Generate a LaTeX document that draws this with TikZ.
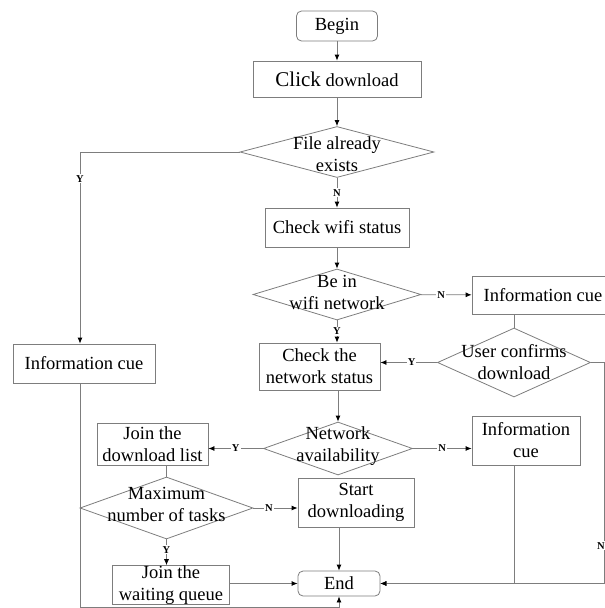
\documentclass[tikz,border=0pt]{standalone}
\usepackage{fontspec}
\setmainfont{Liberation Serif}
\usetikzlibrary{arrows.meta,calc,positioning,shapes.geometric}
\definecolor{flowgray}{RGB}{125,125,125}

\begin{document}
\begin{tikzpicture}[
    x=1pt,y=-1pt,
    >={Latex[length=6pt,width=5pt,color=black]},
    font=\fontsize{18.5}{22}\selectfont,
    process/.style={
      rectangle,draw=flowgray,line width=0.8pt,align=center,inner sep=0pt
    },
    terminal/.style={process,rounded corners=5pt},
    decision/.style={diamond,draw=flowgray,line width=0.8pt,inner sep=0pt},
    flow/.style={->,line width=0.8pt,color=flowgray},
    link/.style={line width=0.8pt,color=flowgray},
    yn/.style={fill=white,inner sep=1pt,text=black,
      font=\fontsize{10.5}{12}\selectfont\bfseries}
  ]
    \useasboundingbox (0,0) rectangle (605,608);

    \node[terminal,minimum width=81pt,minimum height=30pt] (begin) at (337,26) {Begin};
    \node[process,minimum width=168pt,minimum height=36pt] (click) at (337,79)
      {{\fontsize{21}{24}\selectfont Click} download};
    \node[decision,minimum width=194pt,minimum height=51pt,
      label={[align=center,yshift=-2pt]center:File already\\exists}] (exists) at (337,152) {};
    \node[process,minimum width=144pt,minimum height=39pt] (wifi) at (337,227.5) {Check wifi status};
    \node[decision,minimum width=168pt,minimum height=51pt,
      label={[align=center,yshift=2pt]center:Be in\\wifi network}] (inwifi) at (337,294.5) {};
    \node[process,minimum width=142pt,minimum height=38pt] (cue1) at (543,295) {Information cue};
    \node[process,minimum width=142pt,minimum height=39pt] (cueL) at (84,363.5) {Information cue};
    \node[process,minimum width=121pt,minimum height=47pt] (netstat) at (319.5,366.5)
      {Check the\\network status};
    \node[decision,minimum width=153pt,minimum height=69pt,
      label={[align=center]center:User confirms\\download}] (confirm) at (514,362.5) {};
    \node[decision,minimum width=149pt,minimum height=53pt,
      label={[align=center,yshift=2pt]center:Network\\availability}] (avail) at (338,448.5) {};
    \node[process,minimum width=111pt,minimum height=42pt] (joinlist) at (152.5,444)
      {Join the\\download list};
    \node[process,minimum width=108pt,minimum height=49pt] (cue2) at (526,440.5)
      {Information\\cue};
    \node[decision,minimum width=173pt,minimum height=62pt,
      label={[align=center,yshift=4pt]center:Maximum\\number of tasks}] (maxtask) at (166.5,508) {};
    \node[process,minimum width=116pt,minimum height=49pt] (start) at (356,502.5)
      {Start\\downloading};
    \node[process,minimum width=117pt,minimum height=38pt] (waitq) at (171,585)
      {Join the\\waiting queue};
    \node[terminal,minimum width=82pt,minimum height=25pt] (endn) at (339,583.5) {End};

    \coordinate (rside) at (604,583.5);
    \coordinate (lbot) at (80,607);

    \draw[flow] (begin) -- (click);
    \draw[flow] (click) -- (exists);
    \draw[flow] (exists) -- node[yn]{N} (wifi);
    \draw[flow] (exists.west) -| node[yn,pos=0.57]{Y} ([xshift=-4pt]cueL.north);
    \draw[flow] (wifi) -- (inwifi);
    \draw[flow] (inwifi) -- node[yn,pos=0.4]{N} (cue1);
    \draw[flow] (inwifi.south) -- node[yn]{Y} (inwifi.south |- netstat.north);
    \draw[link] (cue1.south -| confirm.north) -- (confirm.north);
    \draw[flow] (confirm.west) -- node[yn,pos=0.45]{Y} (confirm.west -| netstat.east);
    \draw[flow] (netstat.south -| avail.north) -- (avail.north);
    \draw[flow] (avail.west) -- node[yn]{Y} (avail.west -| joinlist.east);
    \draw[flow] (avail.east) -- node[yn]{N} (avail.east -| cue2.west);
    \draw[link] (joinlist.south -| maxtask.north) -- (maxtask.north);
    \draw[flow] (maxtask.east) -- node[yn,pos=0.35]{N} (maxtask.east -| start.west);
    \draw[flow] (maxtask.south) -- node[yn,pos=0.4]{Y} (maxtask.south |- waitq.north);
    \draw[flow] (start.south -| endn.north) -- (endn.north);
    \draw[flow] (waitq.east |- endn.west) -- (endn.west);
    \draw[flow] (cue2.south -| confirm.north) |- (endn.east);
    \draw[flow] (confirm.east) -| node[yn,pos=0.915,xshift=-3pt]{N} (rside) -- (endn.east);
    \draw[flow] ([xshift=-4pt]cueL.south) -- (lbot) -| (endn.south);
  \end{tikzpicture}
\end{document}
